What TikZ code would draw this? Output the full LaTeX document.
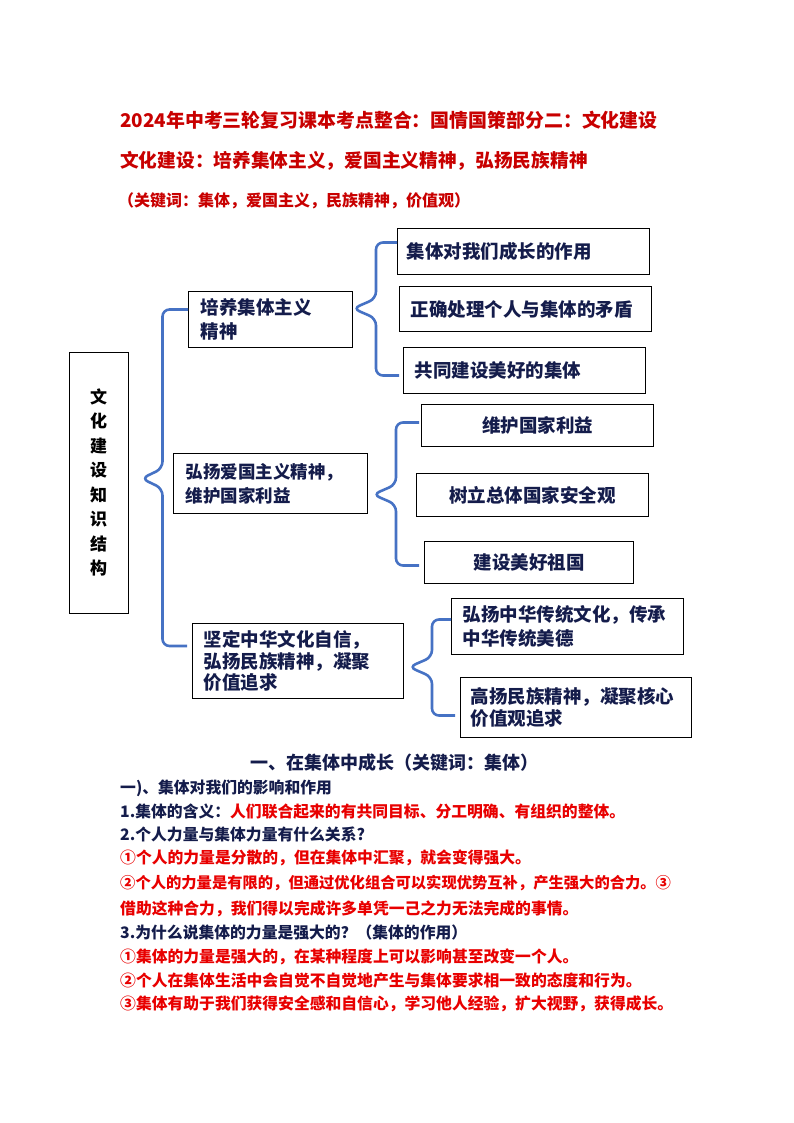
\documentclass[tikz,border=0pt]{standalone}
\usepackage{fontspec}
\setmainfont{Noto Sans CJK SC}
\usetikzlibrary{calc}
\definecolor{navy}{RGB}{20,28,75}
\definecolor{titlered}{RGB}{200,0,0}
\definecolor{bodyred}{RGB}{232,0,0}
\definecolor{braceblue}{RGB}{70,114,196}
\newcommand\fs[2]{\fontsize{#1}{#2}\selectfont}
\newcommand\kbrace[4]{\draw[bline] (#2) -| ($(#1)+(#4,-10)$) -- (#1) -- ($(#1)+(#4,10)$) |- (#3);}

\begin{document}
\begin{tikzpicture}[x=1pt,y=-1pt,
  kbox/.style={draw,line width=1pt,text=navy,anchor=north west,inner ysep=0pt,
    font=\bfseries\fs{18.5}{24},align=left},
  bline/.style={draw=braceblue,line width=2.6pt,rounded corners=7pt},
  line/.style={anchor=west,inner sep=0pt,font=\bfseries\fs{15.8}{20}}]
  \useasboundingbox (0,0) rectangle (794,1123);

  \node[anchor=west,inner sep=0pt,text=titlered,font=\bfseries\fs{18.9}{22}] (title) at (120,120)
    {2024年中考三轮复习课本考点整合：国情国策部分二：文化建设};
  \node[anchor=west,inner sep=0pt,text=titlered,font=\bfseries\fs{18.7}{22}] (sub) at (120,161)
    {文化建设：培养集体主义，爱国主义精神，弘扬民族精神};
  \node[anchor=west,inner sep=0pt,text=titlered,font=\bfseries\fs{16}{20}] (keys) at (118,201)
    {（关键词：集体，爱国主义，民族精神，价值观）};

  \node[draw,line width=1pt,minimum width=59,minimum height=261,align=center,
    font=\bfseries\fs{17}{24.5}] (frame) at (98.5,482.5) {文\\化\\建\\设\\知\\识\\结\\构};

  \node[kbox,minimum height=56,inner xsep=12,text width=140] (b1) at (188,291) {培养集体主义\\精神};
  \node[kbox,minimum height=60,inner xsep=12,text width=170,font=\bfseries\fs{17.5}{24}] (b2) at (173,453)
    {弘扬爱国主义精神，\\维护国家利益};
  \node[kbox,minimum height=75,inner xsep=11,text width=189,font=\bfseries\fs{18.5}{21.5}] (b3) at (192,623)
    {坚定中华文化自信，\\弘扬民族精神，凝聚\\价值追求};

  \node[kbox,minimum height=46,inner xsep=9,text width=234] (c11) at (397,228) {集体对我们成长的作用};
  \node[kbox,minimum height=45,inner xsep=11,text width=230] (c12) at (399,286) {正确处理个人与集体的矛盾};
  \node[kbox,minimum height=46,inner xsep=11,text width=220] (c13) at (403,347) {共同建设美好的集体};

  \node[kbox,minimum height=42,inner xsep=8,text width=216,align=center] (c21) at (421,404) {维护国家利益};
  \node[kbox,minimum height=43,inner xsep=8,text width=216,align=center] (c22) at (416,473) {树立总体国家安全观};
  \node[kbox,minimum height=42,inner xsep=8,text width=193,align=center] (c23) at (424,541) {建设美好祖国};

  \node[kbox,minimum height=56,inner xsep=11,text width=210] (c31) at (451,598)
    {弘扬中华传统文化，传承\\中华传统美德};
  \node[kbox,minimum height=60,inner xsep=10,text width=211,font=\bfseries\fs{18.5}{22}] (c32) at (460,677)
    {高扬民族精神，凝聚核心\\价值观追求};

  \kbrace{[xshift=13pt,yshift=4pt]frame.east}{[yshift=10pt]b1.west}{[yshift=15pt,xshift=-5pt]b3.west}{21}
  \kbrace{[yshift=11pt]b1.east}{[yshift=9pt]c11.west}{[yshift=-5pt,xshift=-4pt]c13.west}{23}
  \kbrace{[xshift=5pt,yshift=-11pt]b2.east}{[xshift=-2pt,yshift=3pt]c21.west}{[xshift=-5pt,yshift=-3pt]c23.west}{23}
  \kbrace{[xshift=5pt,yshift=-6pt]b3.east}{[yshift=7pt]c31.west}{[xshift=-5pt,yshift=-8pt]c32.west}{23}

  \node[inner sep=0pt,text=navy,font=\bfseries\fs{18}{22}] (head) at (394,763)
    {一、在集体中成长（关键词：集体）};
  \node[line,text=navy] (l1) at (120,788) {一)、集体对我们的影响和作用};
  \node[line,text=bodyred] (l2) at (120,812) {\textcolor{navy}{1.集体的含义：}人们联合起来的有共同目标、分工明确、有组织的整体。};
  \node[line,text=navy] (l3) at (120,834) {2.个人力量与集体力量有什么关系?};
  \node[line,text=bodyred] (l4) at (120,858) {①个人的力量是分散的，但在集体中汇聚，就会变得强大。};
  \node[line,text=bodyred,font=\bfseries\fs{15.3}{20}] (l5) at (120,883) {②个人的力量是有限的，但通过优化组合可以实现优势互补，产生强大的合力。③};
  \node[line,text=bodyred] (l6) at (120,909) {借助这种合力，我们得以完成许多单凭一己之力无法完成的事情。};
  \node[line,text=navy] (l7) at (120,933) {3.为什么说集体的力量是强大的？（集体的作用）};
  \node[line,text=bodyred] (l8) at (120,957) {①集体的力量是强大的，在某种程度上可以影响甚至改变一个人。};
  \node[line,text=bodyred] (l9) at (120,980) {②个人在集体生活中会自觉不自觉地产生与集体要求相一致的态度和行为。};
  \node[line,text=bodyred] (l10) at (120,1004) {③集体有助于我们获得安全感和自信心，学习他人经验，扩大视野，获得成长。};
\end{tikzpicture}
\end{document}
